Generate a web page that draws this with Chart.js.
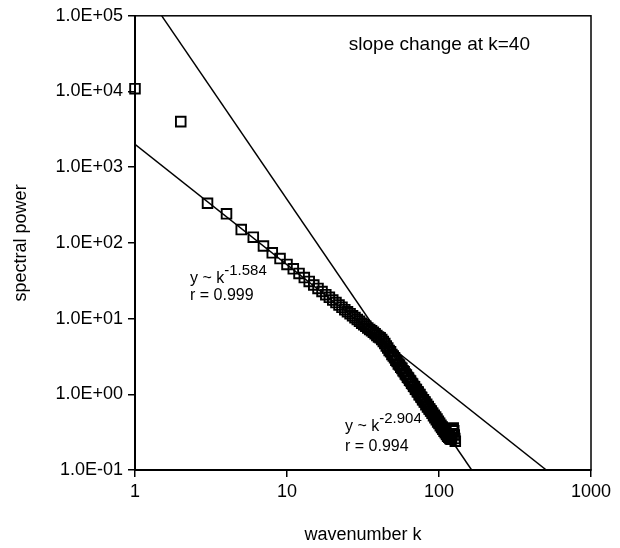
<!DOCTYPE html>
<html><head><meta charset="utf-8">
<script src="https://cdn.jsdelivr.net/npm/chart.js@4.4.1/dist/chart.umd.min.js"></script>
<style>html,body{margin:0;padding:0;background:#fff}#wrap{width:620px;height:548px}</style>
</head><body><div id="wrap"><canvas id="c" width="620" height="548"></canvas></div>
<script>
const wavenumbers = [1,2,3,4,5,6,7,8,9,10,11,12,13,14,15,16,17,18,19,20,21,22,23,24,25,26,27,28,29,30,31,32,33,34,35,36,37,38,39,40,
41,42,43,44,45,46,47,48,49,50,51,52,53,54,55,56,57,58,59,60,61,62,63,64,65,66,67,68,69,70,71,72,73,74,75,76,77,78,79,80,
81,82,83,84,85,86,87,88,89,90,91,92,93,94,95,96,97,98,99,100,101,102,103,104,105,106,107,108,109,110,111,112,113,114,115,116,117,118,119,120,
121,122,123,124,125,126,127,128];
const spectralPower = [10900,4000,334,242,150,119,91,74,62,52,45.5,39.5,34.8,31.0,27.8,25.0,22.8,20.7,19.1,17.6,16.3,15.1,14.1,13.1,12.3,11.6,10.9,10.3,9.7,9.2,8.7,8.3,7.9,7.5,7.2,6.9,6.6,6.3,6.0,5.7,
5.6,5.3,5.0,4.7,4.35,4.1,3.8,3.65,3.35,3.2,3.05,2.82,2.72,2.52,2.44,2.27,2.2,2.05,1.99,1.85,1.8,1.68,1.64,1.53,1.5,1.4,1.37,1.28,1.26,1.17,1.16,1.08,1.07,0.99,0.99,0.92,0.91,0.85,0.85,0.79,
0.79,0.73,0.74,0.68,0.69,0.64,0.64,0.6,0.6,0.56,0.56,0.52,0.53,0.49,0.5,0.46,0.47,0.43,0.44,0.41,0.415,0.385,0.39,0.365,0.37,0.345,0.35,0.325,0.33,0.31,0.315,0.295,0.3,0.28,0.285,0.27,0.275,0.26,0.265,0.255,
0.27,0.3,0.34,0.36,0.33,0.29,0.26,0.24];
const fitShallowK = [1, 508];
const fitShallowP = [2000, 0.1];
const fitSteepK = [1.5, 164];
const fitSteepP = [100000, 0.1];
const xTicks = [1, 10, 100, 1000];
const xTickLabels = ['1', '10', '100', '1000'];
const yTicks = [0.1, 1, 10, 100, 1000, 10000, 100000];
const yTickLabels = ['1.0E-01', '1.0E+00', '1.0E+01', '1.0E+02', '1.0E+03', '1.0E+04', '1.0E+05'];

const FONT = '"Liberation Sans", Arial, Helvetica, sans-serif';
const toPts = (xs, ys) => xs.map((x, i) => ({x: x, y: ys[i]}));

const frame = {
  id: 'frame',
  afterDraw(chart) {
    const {ctx, chartArea: a} = chart;
    ctx.save();
    ctx.strokeStyle = '#000';
    ctx.lineWidth = 1.5;
    ctx.strokeRect(a.left, a.top, a.right - a.left, a.bottom - a.top);
    ctx.restore();
  }
};

function fitLabel(c, x, y, sup, ry, rtext) {
  c.font = '16px ' + FONT;
  c.fillText('y ~ k', x, y);
  const w = c.measureText('y ~ k').width;
  c.font = '15px ' + FONT;
  c.fillText(sup, x + w, y - 8);
  c.font = '16px ' + FONT;
  c.fillText(rtext, x, ry);
}

const notes = {
  id: 'notes',
  afterDraw(chart) {
    const c = chart.ctx;
    c.save();
    c.fillStyle = '#000';
    c.textBaseline = 'alphabetic';
    c.font = '19px ' + FONT;
    c.textAlign = 'right';
    c.fillText('slope change at k=40', 530, 50);
    c.textAlign = 'left';
    fitLabel(c, 190, 283, '-1.584', 300, 'r = 0.999');
    fitLabel(c, 345, 431, '-2.904', 451, 'r = 0.994');
    c.restore();
  }
};

new Chart(document.getElementById('c'), {
  type: 'scatter',
  data: {
    datasets: [
      {
        label: 'spectral power',
        data: toPts(wavenumbers, spectralPower),
        pointStyle: 'rect',
        pointRadius: 6.8,
        pointBorderWidth: 1.9,
        borderColor: '#000',
        backgroundColor: 'rgba(0,0,0,0)',
        clip: false,
        order: 1
      },
      {
        type: 'line',
        label: 'fit k^-1.584',
        data: toPts(fitShallowK, fitShallowP),
        borderColor: '#000',
        borderWidth: 1.5,
        pointRadius: 0,
        fill: false,
        order: 2
      },
      {
        type: 'line',
        label: 'fit k^-2.904',
        data: toPts(fitSteepK, fitSteepP),
        borderColor: '#000',
        borderWidth: 1.5,
        pointRadius: 0,
        fill: false,
        order: 2
      }
    ]
  },
  options: {
    responsive: false,
    animation: false,
    layout: {padding: {top: 15, right: 29, left: 0, bottom: 0}},
    plugins: {legend: {display: false}, tooltip: {enabled: false}},
    scales: {
      x: {
        type: 'logarithmic',
        position: 'bottom',
        min: 1, max: 1000,
        afterBuildTicks: s => { s.ticks = xTicks.map(v => ({value: v})); },
        afterFit: s => { s.height = 78; },
        ticks: {
          callback: (v, i) => xTickLabels[i],
          color: '#000', font: {family: FONT, size: 18},
          maxRotation: 0, autoSkip: false, padding: 4
        },
        grid: {display: true, drawOnChartArea: false, drawTicks: true, tickLength: 7, color: '#000', lineWidth: 1.5},
        border: {display: true, color: '#000', width: 2},
        title: {display: true, text: 'wavenumber k', color: '#000', font: {family: FONT, size: 18}, padding: {top: 0, bottom: 2}}
      },
      y: {
        type: 'logarithmic',
        position: 'left',
        min: 0.1, max: 100000,
        afterBuildTicks: s => { s.ticks = yTicks.map(v => ({value: v})); },
        afterFit: s => { s.width = 135; },
        ticks: {
          callback: (v, i) => yTickLabels[i],
          color: '#000', font: {family: FONT, size: 18},
          autoSkip: false, padding: 5
        },
        grid: {display: true, drawOnChartArea: false, drawTicks: true, tickLength: 7, color: '#000', lineWidth: 1.5},
        border: {display: true, color: '#000', width: 2},
        title: {display: true, text: 'spectral power', color: '#000', font: {family: FONT, size: 18}, padding: {top: 10, bottom: 0}}
      }
    }
  },
  plugins: [frame, notes]
});
</script></body></html>
